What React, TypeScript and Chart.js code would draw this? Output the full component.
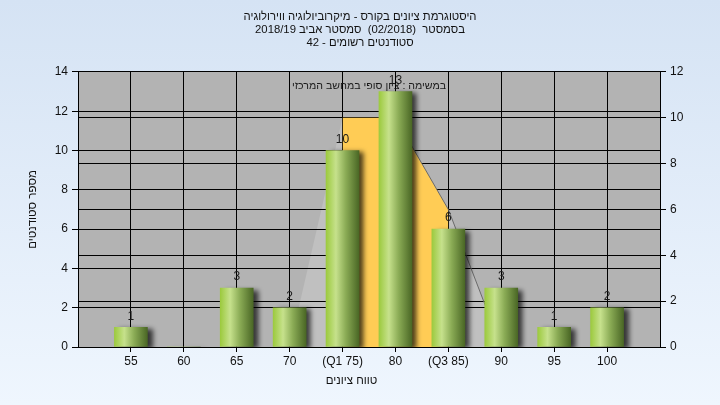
import React, { useEffect, useRef } from 'react';
import { Chart, registerables } from 'chart.js';

Chart.register(...registerables);

const titleLines = [
  'היסטוגרמת ציונים בקורס - מיקרוביולוגיה ווירולוגיה',
  'בסמסטר  (02/2018)  סמסטר אביב 2018/19',
  'סטודנטים רשומים - 42',
];
const noteText = 'במשימה : ציון סופי במחשב המרכזי';
const xAxisTitle = 'טווח ציונים';
const yAxisTitle = 'מספר סטודנטים';

const categories = [55, 60, 65, 70, 75, 80, 85, 90, 95, 100];
const tickLabels = ['55', '60', '65', '70', '(Q1 75)', '80', '(Q3 85)', '90', '95', '100'];
const counts = [1, 0, 3, 2, 10, 13, 6, 3, 1, 2];

const curveX = [70, 75, 80, 85, 90];
const curveValues = [0, 10, 10, 6, 0];
const quartileX = [75, 80, 85];
const quartileValues = [10, 10, 6];

const FONT = "'Liberation Sans', Arial, sans-serif";

export default function App() {
  const canvasRef = useRef<HTMLCanvasElement | null>(null);

  useEffect(() => {
    document.body.style.margin = '0';
    const canvas = canvasRef.current;
    if (!canvas) return;

    const bgPlugin = {
      id: 'bgPlugin',
      beforeDraw(chart: any) {
        const { ctx, chartArea, width, height } = chart;
        ctx.save();
        const g = ctx.createLinearGradient(0, 0, 0, height);
        g.addColorStop(0, '#d5e3f4');
        g.addColorStop(1, '#eff6fe');
        ctx.fillStyle = g;
        ctx.fillRect(0, 0, width, height);
        ctx.fillStyle = '#b3b3b3';
        ctx.fillRect(chartArea.left, chartArea.top, chartArea.right - chartArea.left, chartArea.bottom - chartArea.top);
        ctx.restore();
      },
      beforeDatasetDraw(chart: any, args: any) {
        if (args.index === 0) {
          const ctx = chart.ctx;
          ctx.save();
          ctx.shadowColor = 'rgba(0,0,0,0.7)';
          ctx.shadowOffsetX = 5;
          ctx.shadowOffsetY = 2;
          ctx.shadowBlur = 5;
        }
      },
      afterDatasetDraw(chart: any, args: any) {
        if (args.index === 0) {
          chart.ctx.restore();
        }
        if (args.index === 3) {
          ['y', 'y1', 'x'].forEach((id) => {
            const s = chart.scales[id];
            if (s) s.drawGrid(chart.chartArea);
          });
        }
      },
      afterDatasetsDraw(chart: any) {
        const { ctx, chartArea } = chart;
        ctx.save();
        ctx.fillStyle = '#1a1a1a';
        ctx.textAlign = 'center';
        ctx.textBaseline = 'middle';
        ctx.font = `10.6px ${FONT}`;
        ctx.fillText(noteText, (chartArea.left + chartArea.right) / 2, chartArea.top + 14);
        ctx.font = `12px ${FONT}`;
        const meta = chart.getDatasetMeta(0);
        meta.data.forEach((el: any, i: number) => {
          if (!counts[i]) return;
          ctx.fillText(String(counts[i]), el.x, el.y - 11);
        });
        ctx.restore();
      },
    };

    const barColor = (c: any) => {
      const chart = c.chart;
      const xs = chart.scales && chart.scales.x;
      if (!xs || c.dataIndex === undefined) return '#9fcb47';
      const cx = xs.getPixelForValue(categories[c.dataIndex]);
      if (!Number.isFinite(cx)) return '#9fcb47';
      const g = chart.ctx.createLinearGradient(cx - 16.5, 0, cx + 16.5, 0);
      g.addColorStop(0, '#9cca3e');
      g.addColorStop(0.3, '#c6e18c');
      g.addColorStop(0.6, '#8aab55');
      g.addColorStop(1, '#4a6725');
      return g;
    };

    const chart = new Chart(canvas, {
      type: 'bar',
      data: {
        datasets: [
          {
            type: 'bar',
            data: categories.map((x, i) => ({ x, y: counts[i] })),
            backgroundColor: barColor,
            borderWidth: 0,
            barThickness: 33,
            yAxisID: 'y',
            order: 1,
          } as any,
          {
            type: 'line',
            data: curveX.slice(2).map((x, i) => ({ x, y: curveValues[i + 2] })),
            borderColor: '#6a6a6a',
            borderWidth: 1,
            pointRadius: 0,
            fill: false,
            yAxisID: 'y1',
            order: 2,
          },
          {
            type: 'line',
            data: quartileX.map((x, i) => ({ x, y: quartileValues[i] })),
            borderWidth: 0,
            borderColor: 'rgba(0,0,0,0)',
            backgroundColor: '#ffcc55',
            pointRadius: 0,
            fill: 'origin',
            yAxisID: 'y1',
            order: 3,
          },
          {
            type: 'line',
            data: curveX.map((x, i) => ({ x, y: curveValues[i] })),
            borderWidth: 0,
            borderColor: 'rgba(0,0,0,0)',
            backgroundColor: '#c0c0c0',
            pointRadius: 0,
            fill: 'origin',
            yAxisID: 'y1',
            order: 4,
          },
        ],
      },
      options: {
        responsive: false,
        animation: false,
        events: [],
        layout: { padding: 0 },
        plugins: {
          legend: { display: false },
          tooltip: { enabled: false },
          title: {
            display: true,
            text: titleLines,
            color: '#111111',
            font: { family: FONT, size: 11.3, weight: 'normal', lineHeight: 1.12 },
            padding: { top: 11, bottom: 23 },
          },
        },
        scales: {
          x: {
            type: 'linear',
            min: 50,
            max: 105,
            offset: false,
            ticks: {
              stepSize: 5,
              autoSkip: false,
              maxRotation: 0,
              padding: 2,
              color: '#111111',
              font: { family: FONT, size: 12 },
              callback: (v: any) => {
                const i = categories.indexOf(Number(v));
                return i >= 0 ? tickLabels[i] : '';
              },
            },
            grid: {
              offset: false,
              color: '#000000',
              lineWidth: 1,
              tickLength: 5,
              tickColor: (c: any) => (c.tick && (c.tick.value === 50 || c.tick.value === 105) ? 'rgba(0,0,0,0)' : '#000000'),
            },
            border: { color: '#000000', width: 1 },
            title: {
              display: true,
              text: xAxisTitle + '           ',
              color: '#111111',
              font: { family: FONT, size: 11.5 },
              padding: { top: 0, bottom: 17 },
            },
            afterFit: (s: any) => { s.height = 58; },
          } as any,
          y: {
            type: 'linear',
            position: 'left',
            min: 0,
            max: 14,
            ticks: {
              stepSize: 2,
              padding: 4,
              color: '#111111',
              font: { family: FONT, size: 12 },
            },
            grid: { color: '#000000', lineWidth: 1, tickLength: 6, tickColor: '#000000' },
            border: { color: '#000000', width: 1 },
            title: {
              display: true,
              text: yAxisTitle,
              color: '#111111',
              font: { family: FONT, size: 11.5 },
              padding: { top: 26, bottom: 0 },
            },
            afterFit: (s: any) => { s.width = 78; },
          } as any,
          y1: {
            type: 'linear',
            position: 'right',
            min: 0,
            max: 12,
            ticks: {
              stepSize: 2,
              padding: 4,
              color: '#111111',
              font: { family: FONT, size: 12 },
            },
            grid: { color: '#000000', lineWidth: 1, tickLength: 6, tickColor: '#000000', drawOnChartArea: true },
            border: { color: '#000000', width: 1 },
            afterFit: (s: any) => { s.width = 60; },
          } as any,
        },
      },
      plugins: [bgPlugin],
    } as any);

    return () => {
      chart.destroy();
    };
  }, []);

  return (
    <div style={{ width: 720, height: 405 }}>
      <canvas ref={canvasRef} width={720} height={405} style={{ display: 'block' }} />
    </div>
  );
}
